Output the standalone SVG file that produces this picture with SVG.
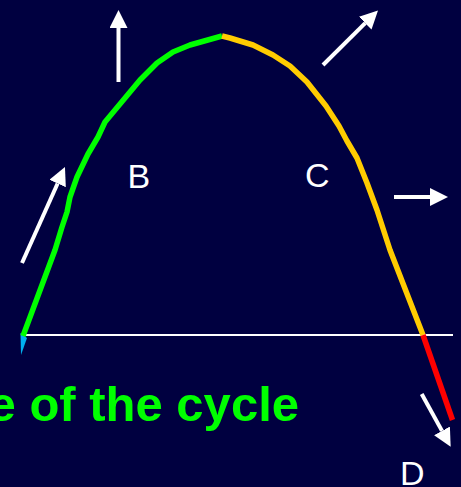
<svg xmlns="http://www.w3.org/2000/svg" width="461" height="487" viewBox="0 0 461 487">
  <defs>
    <style>
      .curve { fill: none; stroke-width: 5.5; stroke-linejoin: round; stroke-linecap: butt; }
      .arrow { stroke: #ffffff; stroke-width: 4; fill: none; marker-end: url(#head); }
      .lbl { font-family: "Liberation Sans", Arial, sans-serif; font-size: 34px; fill: #ffffff; }
      .title { font-family: "Liberation Sans", Arial, sans-serif; font-size: 49px; font-weight: bold; fill: #00ff00; }
    </style>
    <marker id="head" viewBox="0 0 18 18" markerWidth="18" markerHeight="18" refX="0" refY="9" orient="auto" markerUnits="userSpaceOnUse">
      <path d="M0,0 L18,9 L0,18 Z" fill="#ffffff"/>
    </marker>
  </defs>
  <rect width="461" height="487" fill="#000040"/>

  <g id="baseline">
    <line x1="25" y1="335" x2="453" y2="335" stroke="#ffffff" stroke-width="2"/>
  </g>

  <g id="curve">
    <polygon id="tail" points="20.5,333 27,338 21,355" fill="#00b0f0"/>
    <polyline id="rise" class="curve" stroke="#00ff00" points="23,336 55,250 62,227 67,212 70,197 77,177 88,154 98,137 105,122 120,104 140,80 157,63 173,52 190,45 222,36"/>
    <polyline id="fall" class="curve" stroke="#ffcc00" points="222,36 230,38 253,45 273,55 290,66 307,82 326,106 339,126 347,141 357,158 367,183 377,210 390,250 423,335"/>
    <line id="drop" class="curve" stroke="#ff0000" x1="423" y1="335" x2="452.5" y2="420"/>
  </g>

  <g id="connectors">
    <line class="arrow" x1="118.5" y1="82" x2="118.5" y2="28"/>
    <line class="arrow" x1="323" y1="65" x2="365.2" y2="23.2"/>
    <line class="arrow" x1="394" y1="197" x2="430" y2="197"/>
    <line class="arrow" x1="421.7" y1="394" x2="442" y2="430.9"/>
    <line class="arrow" x1="22" y1="263" x2="57.6" y2="183.5"/>
  </g>

  <g id="label-B"><text class="lbl" x="127.5" y="188">B</text></g>
  <g id="label-C"><text class="lbl" x="305" y="187">C</text></g>
  <g id="label-D"><text class="lbl" x="400" y="485">D</text></g>
  <g id="caption"><text class="title" x="299" y="421" text-anchor="end">e of the cycle</text></g>
</svg>
